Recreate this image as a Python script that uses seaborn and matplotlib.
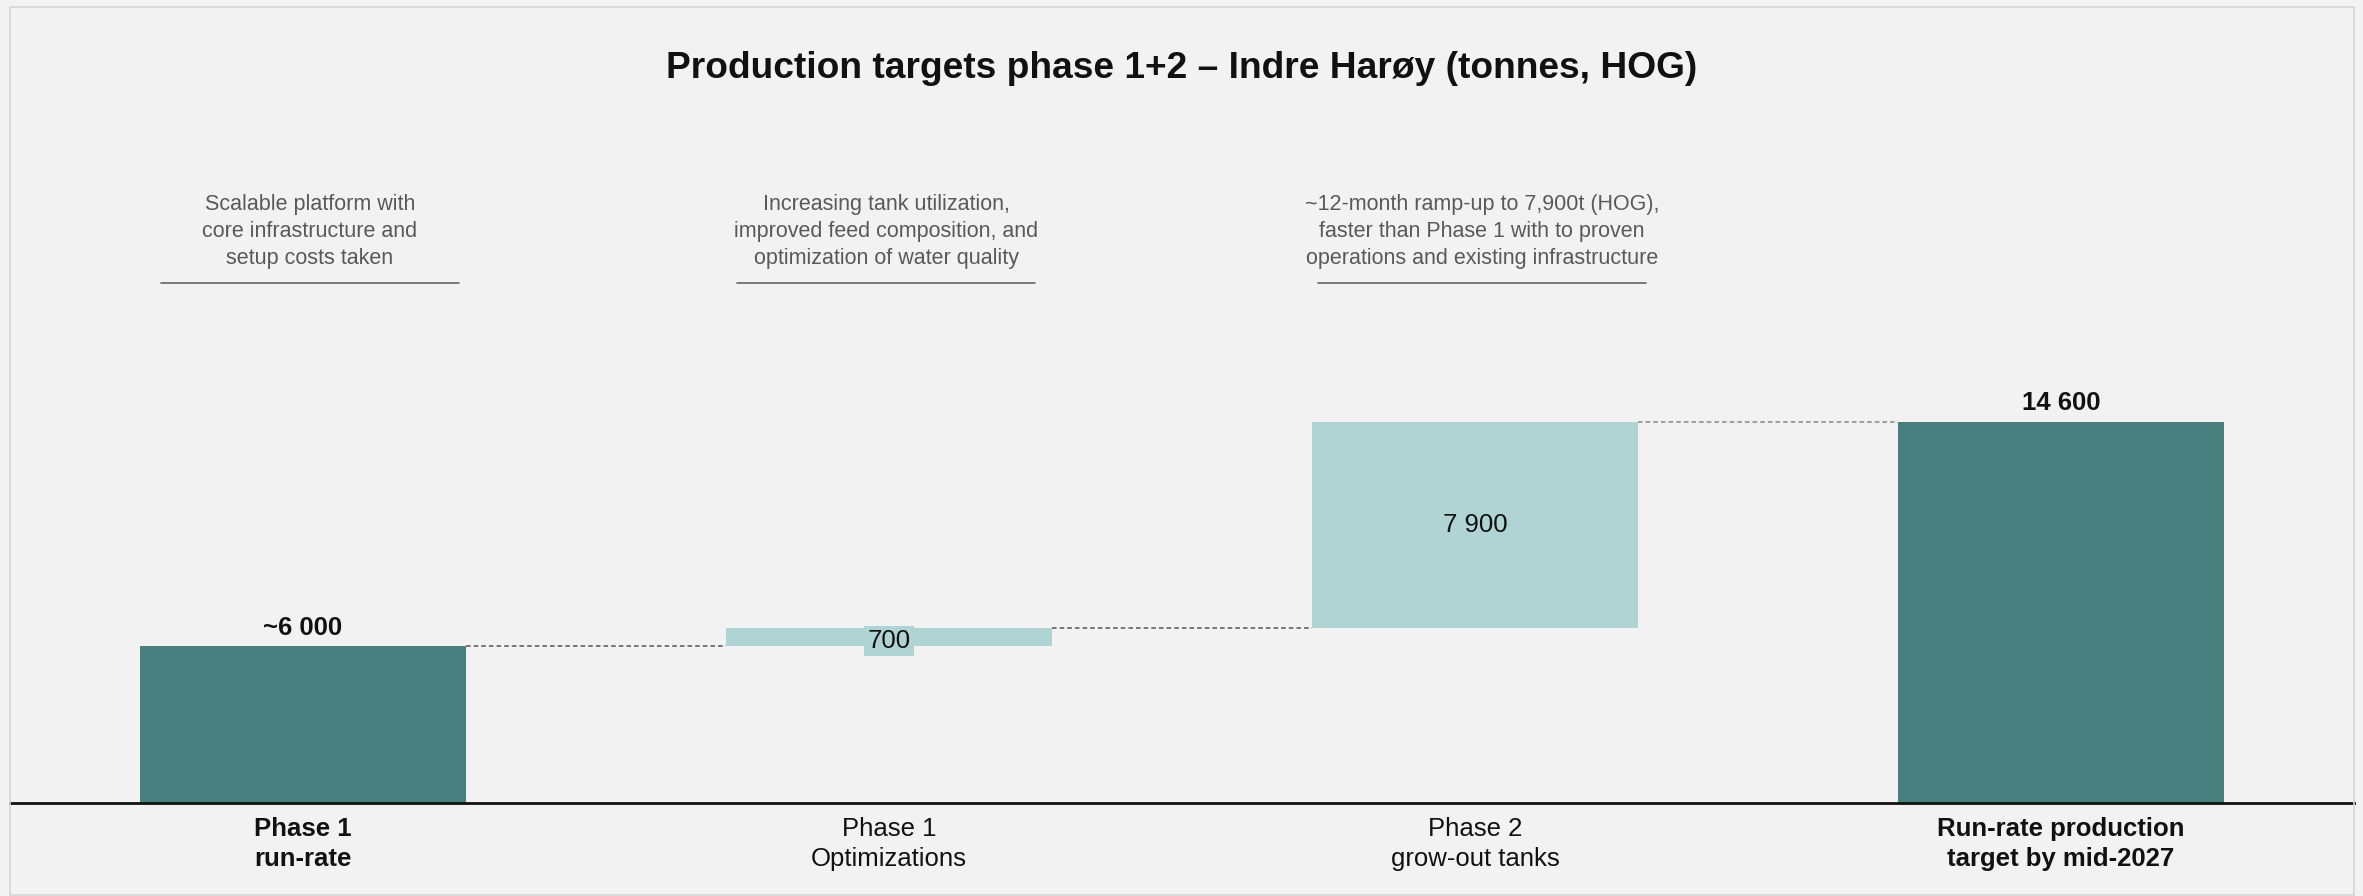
import matplotlib
matplotlib.use("Agg")
import matplotlib.pyplot as plt
import matplotlib.transforms as mtransforms
from matplotlib.patches import Rectangle
import seaborn as sns
import pandas as pd

# ---- data ----
categories = ["Phase 1\nrun-rate", "Phase 1\nOptimizations", "Phase 2\ngrow-out tanks",
              "Run-rate production\ntarget by mid-2027"]
total_values = [6000, 14600]          # Phase 1 run-rate, target
delta_values = [700, 7900]            # optimizations, phase 2
delta_bottoms = [6000, 6700]
value_labels = ["~6 000", "700", "7 900", "14 600"]
notes = ["Scalable platform with\ncore infrastructure and\nsetup costs taken",
         "Increasing tank utilization,\nimproved feed composition, and\noptimization of water quality",
         "~12-month ramp-up to 7,900t (HOG),\nfaster than Phase 1 with to proven\noperations and existing infrastructure"]
title = "Production targets phase 1+2 \u2013 Indre Har\u00f8y (tonnes, HOG)"

DARK = "#487f7f"
LIGHT = "#b0d3d3"
BG = "#f2f2f2"

sns.set_theme(style="white")
plt.rcParams['font.family'] = ['Liberation Sans', 'DejaVu Sans']

W, H = 2363, 896
fig = plt.figure(figsize=(W / 100, H / 100), dpi=100, facecolor=BG)
ax = fig.add_axes([10 / W, 1 - 803 / H, (2354 - 10) / W, (803 - 7) / H])
ax.set_facecolor(BG)

df_tot = pd.DataFrame({"cat": [categories[0], categories[3]], "val": total_values})
df_del = pd.DataFrame({"cat": [categories[1], categories[2]], "val": delta_values})

sns.barplot(data=df_tot, x="cat", y="val", order=categories, color=DARK,
            saturation=1, width=0.555, errorbar=None, ax=ax, linewidth=0)
sns.barplot(data=df_del, x="cat", y="val", order=categories, color=LIGHT,
            saturation=1, width=0.555, errorbar=None, ax=ax, bottom=delta_bottoms,
            linewidth=0)

ax.set_xlim(-0.5, 3.5)
ax.set_ylim(0, 30500)
ax.set_xlabel("")
ax.set_ylabel("")
ax.set_yticks([])
for s in ["top", "right", "left"]:
    ax.spines[s].set_visible(False)
ax.spines["bottom"].set_color("#111111")
ax.spines["bottom"].set_linewidth(2)
ax.tick_params(axis="x", length=0, pad=10)
ax.set_xticks(range(4))
ax.set_xticklabels(categories, fontsize=18.5, color="#111111", linespacing=1.3)
for i, t in enumerate(ax.get_xticklabels()):
    if i in (0, 3):
        t.set_fontweight("bold")

# connectors
hw = 0.555 / 2
levels = [total_values[0], delta_bottoms[1], total_values[1]]
colors = ["#555555", "#555555", "#888888"]
for i, (lv, c) in enumerate(zip(levels, colors)):
    ax.plot([i + hw, i + 1 - hw], [lv, lv], ls=(0, (3, 2)), lw=1.1, color=c)

# value labels
ax.text(0, total_values[0] + 250, value_labels[0], ha="center", va="bottom",
        fontsize=18.5, fontweight="bold", color="#111111")
ax.text(1, delta_bottoms[0] + delta_values[0] / 2 - 150, value_labels[1], ha="center", va="center",
        fontsize=18.5, color="#111111",
        bbox=dict(boxstyle="square,pad=0.12", fc=LIGHT, ec="none"))
ax.text(2, delta_bottoms[1] + delta_values[1] / 2, value_labels[2], ha="center", va="center",
        fontsize=18.5, color="#111111")
ax.text(3, total_values[1] + 250, value_labels[3], ha="center", va="bottom",
        fontsize=18.5, fontweight="bold", color="#111111")

# notes with underline
trans = mtransforms.blended_transform_factory(ax.transData, ax.transAxes)
line_half = [0.254, 0.254, 0.28]
note_shift = [0.012, -0.005, 0.012]
for i, (n, lh, sh) in enumerate(zip(notes, line_half, note_shift)):
    ax.text(i + sh, 0.718, n, transform=trans, ha="center", va="center",
            fontsize=15.5, color="#595959", linespacing=1.4)
    ax.plot([i + sh - lh, i + sh + lh], [0.653, 0.653], transform=trans, color="#666666", lw=1.2)

fig.text(0.5, 1 - 68 / H, title, ha="center", va="center", fontsize=26.7,
         fontweight="bold", color="#111111")

fig.patches.append(Rectangle((10 / W, 1 / H), (2354 - 10) / W, (889 - 1) / H,
                             transform=fig.transFigure, fill=False,
                             ec="#d5d5d5", lw=1.2))

fig.savefig("out.png", dpi=100, facecolor=BG)
